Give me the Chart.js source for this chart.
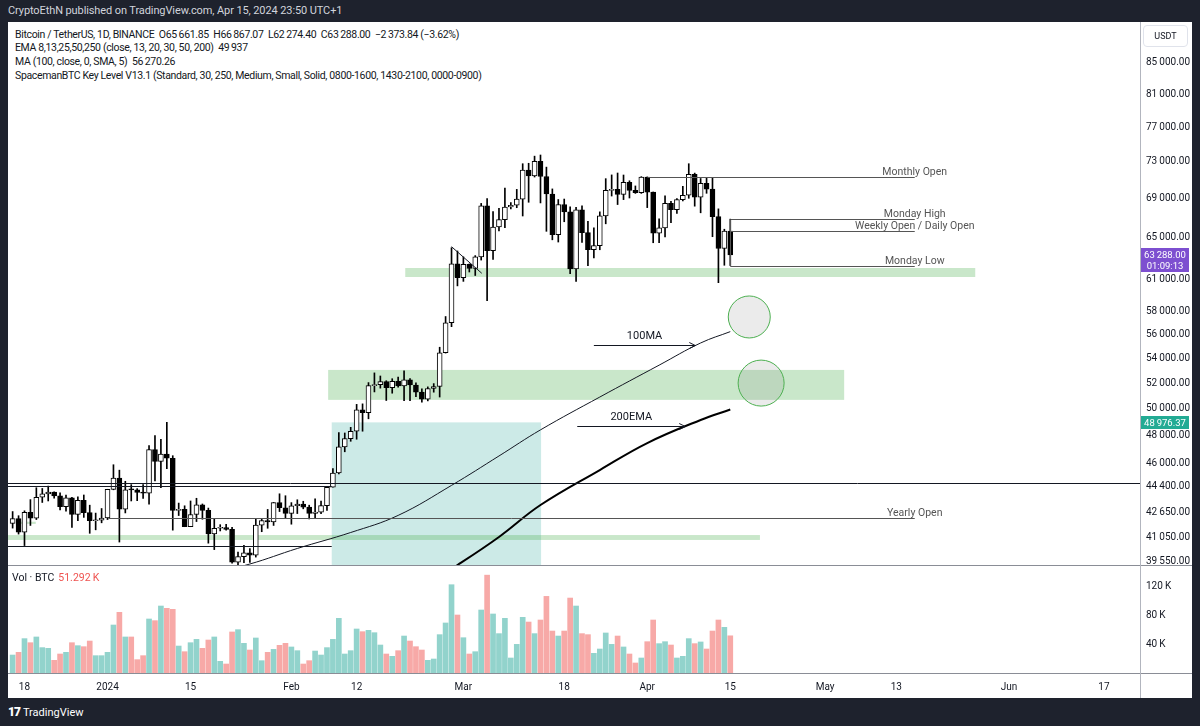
<!DOCTYPE html>
<html>
<head>
<meta charset="utf-8">
<script src="https://cdn.jsdelivr.net/npm/chart.js@4.4.1/dist/chart.umd.min.js"></script>
<style>
  html, body { margin: 0; padding: 0; width: 1200px; height: 726px; overflow: hidden; background: #1e222d; font-family: Roboto, "Noto Sans", sans-serif; }
  .abs { position: absolute; white-space: nowrap; }
  #frame { left: 8px; top: 22px; width: 1184px; height: 676px; background: #fff; }
  #hdr { left: 8px; top: 4px; color: #d1d4dc; font-size: 11px; letter-spacing: -0.1px; }
  .legend { left: 15px; color: #131722; font-size: 10.5px; letter-spacing: -0.35px; }
  #price { left: 8px; top: 22px; }
  #vol { left: 8px; top: 566px; }
  .hline { background: #8a8d96; height: 1px; }
  .vline { background: #b2b5be; width: 1px; }
  #usdt { left: 1143px; top: 25px; width: 43px; height: 20px; border: 1px solid #e0e3eb; border-radius: 4px; font-size: 9px; color: #131722; text-align: center; line-height: 20px; }
  #lastPrice { left: 1141px; top: 248px; width: 48px; height: 24px; background: #7d4fd0; color: #fff; font-size: 9.5px; line-height: 11px; text-align: center; padding-top: 1px; box-sizing: border-box; }
  #emaPrice { left: 1141px; top: 416px; width: 48px; height: 13px; background: #22ab94; color: #fff; font-size: 9.5px; line-height: 13px; text-align: center; }
  #volLabel { left: 12px; top: 571px; font-size: 10.5px; color: #131722; }
  #volLabel span { color: #ef5350; margin-left: 4px; }
  #footer { left: 8px; top: 705px; color: #fff; font-size: 11px; }
  #footer b { font-weight: 900; font-size: 12px; margin-right: 3px; letter-spacing: -1px; }
</style>
</head>
<body>
<div id="frame" class="abs"></div>
<div id="hdr" class="abs">CryptoEthN published on TradingView.com, Apr 15, 2024 23:50 UTC+1</div>
<div class="abs legend" style="top:28px">Bitcoin / TetherUS, 1D, BINANCE&nbsp; O65&#8201;661.85&nbsp; H66&#8201;867.07&nbsp; L62&#8201;274.40&nbsp; C63&#8201;288.00&nbsp; &minus;2&#8201;373.84 (&minus;3.62%)</div>
<div class="abs legend" style="top:41px">EMA 8,13,25,50,250 (close, 13, 20, 30, 50, 200)&nbsp; 49&#8201;937</div>
<div class="abs legend" style="top:55px">MA (100, close, 0, SMA, 5)&nbsp; 56&#8201;270.26</div>
<div class="abs legend" style="top:69px">SpacemanBTC Key Level V13.1 (Standard, 30, 250, Medium, Small, Solid, 0800-1600, 1430-2100, 0000-0900)</div>

<canvas id="price" class="abs" width="1184" height="543"></canvas>
<canvas id="vol" class="abs" width="1184" height="132"></canvas>

<div class="abs hline" style="left:8px;top:565px;width:1184px;"></div>
<div class="abs hline" style="left:8px;top:673px;width:1184px;"></div>
<div class="abs vline" style="left:1140px;top:22px;height:676px;"></div>
<div id="usdt" class="abs">USDT</div>
<div id="lastPrice" class="abs">63&#8201;288.00<br>01:09:13</div>
<div id="emaPrice" class="abs">48&#8201;976.37</div>
<div id="volLabel" class="abs">Vol &middot; BTC<span>51.292&#8201;K</span></div>
<div id="footer" class="abs"><b>17</b>TradingView</div>

<script>
// Candles start Dec 16 2023; x values are days counted from Dec 18 2023
const startDay = -2;

const opens = [41929, 42240, 41365, 42651, 42270, 43650, 43870, 44000, 43740, 43015, 43610, 42520, 43440, 42630, 42100, 42140,
  42283, 44180, 44950, 42850, 44150, 44145, 43970, 43930, 46950, 46110, 46630, 46340, 42780, 42840, 41730, 42510, 43140, 42780, 41260, 41620, 41665, 41545, 39510, 39845, 40080, 39930, 41820, 42120, 42035, 43290, 42950,
  42580, 43080, 43190, 42990, 42580, 42660, 43090, 44320, 45300, 47150, 47750, 48300, 49920, 49700, 51800, 51880, 52120, 51640, 52140, 51780, 52260, 51850, 51290, 50740, 51570, 51730, 54480, 57040, 62430,
  61130, 62390, 61990, 63110, 68240, 63720, 66070, 66820, 68120, 68310, 68960, 72080, 71450, 73070, 71390, 69500, 65300, 68390, 67610, 61940, 67840, 65500, 63800, 64210, 67210, 69880, 69990, 69460, 70740, 69890, 69650,
  71330, 69700, 65450, 65980, 68510, 67840, 68900, 69360, 71620, 69150, 70630, 70010, 67120, 63920, 65662];
const highs = [42700, 42430, 42750, 43490, 44290, 44240, 44400, 44020, 43950, 43800, 43650, 43680, 43800, 43120, 42600, 42900,
  44185, 45880, 45500, 44730, 44500, 44230, 44500, 47250, 47970, 47700, 48970, 46520, 43260, 43080, 43400, 43580, 43200, 42930, 42200, 41850, 41870, 41680, 40130, 40550, 40350, 42220, 42200, 42840, 43300, 43880, 43750,
  43290, 43480, 43380, 43120, 43540, 43400, 44390, 45610, 48200, 48170, 48590, 50330, 50370, 52040, 52820, 52570, 52190, 52350, 52490, 52990, 52370, 52030, 51550, 51700, 51960, 54940, 57590, 64000, 63680,
  63110, 62430, 63230, 68500, 69000, 67640, 67980, 70140, 68590, 69990, 72800, 72850, 73650, 73780, 72420, 70040, 68910, 68960, 68130, 68100, 68240, 66650, 65970, 67620, 71150, 71560, 71770, 71550, 70920, 70360, 71370,
  71340, 69710, 66910, 69290, 68720, 69000, 70330, 72800, 71760, 71170, 71260, 71230, 67930, 65840, 66867];
const lows = [41630, 41250, 40530, 41800, 42180, 43300, 43400, 43580, 42800, 42720, 41680, 42100, 42320, 41300, 41520, 41970,
  42180, 44150, 40750, 42610, 43400, 43420, 43570, 43180, 44750, 44300, 45600, 41500, 42440, 41720, 41720, 42050, 42200, 40680, 40280, 41450, 41500, 39450, 38550, 39480, 39500, 39820, 41400, 41620, 41800, 42700, 42280,
  41880, 42570, 42880, 42220, 42260, 42570, 42780, 44330, 45240, 46800, 47560, 47710, 48300, 49230, 51300, 51600, 50630, 51200, 51680, 50620, 50620, 50930, 50500, 50600, 51280, 50900, 54450, 56700, 60360,
  60780, 61660, 61330, 62800, 59000, 62850, 65660, 66000, 67930, 68050, 67190, 68620, 71330, 68550, 65630, 64780, 64560, 66600, 61500, 60780, 64530, 62260, 63000, 63800, 66390, 69280, 68380, 68900, 69070, 69560, 69560,
  68060, 64490, 64490, 65060, 66500, 67450, 68750, 69040, 68210, 67520, 69570, 65090, 60660, 62300, 62274];
const closes = [42240, 41365, 42651, 42270, 43650, 43870, 44000, 43740, 43015, 43610, 42520, 43440, 42630, 42100, 42140, 42283,
  44180, 44950, 42850, 44150, 44145, 43970, 43930, 46950, 46110, 46630, 46340, 42780, 42840, 41730, 42510, 43140, 42780, 41260, 41620, 41665, 41545, 39510, 39845, 40080, 39930, 41820, 42120, 42035, 43290, 42950, 42580,
  43080, 43190, 42990, 42580, 42660, 43090, 44320, 45300, 47150, 47750, 48300, 49920, 49700, 51800, 51880, 52120, 51640, 52140, 51780, 52260, 51850, 51290, 50740, 51570, 51730, 54480, 57040, 62430, 61130,
  62390, 61990, 63110, 68240, 63720, 66070, 66820, 68120, 68310, 68960, 72080, 71450, 73070, 71390, 69500, 65300, 68390, 67610, 61940, 67840, 65500, 63800, 64210, 67210, 69880, 69990, 69460, 70740, 69890, 69650, 71330,
  69700, 65450, 65980, 68510, 67840, 68900, 69360, 71620, 69150, 70630, 70010, 67120, 63920, 65662, 63288];
// volume in thousands of BTC
const volumes = [24.8, 28.5, 47.4, 41.8, 49.7, 35.0, 34.0, 17.5, 26.2, 28.5, 41.8, 37.7, 36.3, 44.1, 23.9, 23.9,
  28.5, 66.2, 83.7, 49.7, 49.7, 18.4, 23.9, 74.5, 72.2, 92.4, 89.2, 87.8, 37.2, 29.4, 41.8, 46.4, 34.0, 45.5, 49.7, 16.1, 12.4, 56.6, 59.8, 40.9, 31.7, 48.3, 17.0, 28.5, 32.6, 38.2, 40.9,
  35.9, 30.8, 12.4, 17.0, 30.3, 24.8, 35.0, 46.4, 75.4, 26.2, 30.8, 60.7, 57.0, 58.9, 55.6, 38.6, 26.2, 23.0, 30.8, 51.0, 44.1, 36.3, 31.7, 17.5, 19.3, 52.9, 69.0, 121.8, 80.0,
  48.7, 26.2, 29.4, 86.9, 135.0, 81.4, 54.3, 75.4, 20.7, 39.5, 76.8, 70.3, 54.3, 73.1, 105.7, 57.9, 51.0, 57.9, 103.4, 92.4, 54.3, 52.9, 27.1, 33.1, 55.2, 39.5, 51.0, 35.9, 26.2, 13.8, 20.7,
  43.2, 73.1, 40.5, 43.2, 38.6, 20.7, 23.0, 47.4, 40.5, 42.8, 33.1, 57.9, 73.1, 63.0, 51.3];

// 100 SMA and 200 EMA (day, value)
const maDays = [30, 38, 46, 55, 63, 72, 80, 87, 97, 107, 114, 119];
const maValues = [38700, 39400, 40350, 41350, 42450, 44450, 46500, 48400, 50900, 53450, 55300, 56270];
const emaDays = [66, 73, 80, 87, 97, 105, 114, 119];
const emaValues = [37800, 39340, 41070, 43130, 45510, 47430, 49140, 49937];

// axis ticks
const priceTicks = [85000, 81000, 77000, 73000, 69000, 65000, 61000, 58000, 56000, 54000, 52000, 50000, 48000, 46000, 44400, 42650, 41050, 39550];
const volTicks = [40, 80, 120];
const timeTickDays = [0, 14, 28, 45, 56, 74, 91, 105, 119, 135, 147, 166, 182];
const timeTickLabels = ['18', '2024', '15', 'Feb', '12', 'Mar', '18', 'Apr', '15', 'May', '13', 'Jun', '17'];

// drawings: [fromDay, toDay, price, label]
const keyLevels = [
  [105, 150.1, 71330, 'Monthly Open'],
  [119, 150.1, 66867.07, 'Monday High'],
  [119, 150.1, 65661.85, 'Weekly Open / Daily Open'],
  [119, 150.1, 62274.40, 'Monday Low'],
  [14, 150.1, 42283, 'Yearly Open'],
];
const plainLines = [[-3, 190, 44640], [-3, 51.8, 44440], [-3, 51.8, 40520]];
// [fromDay, toDay, low, high]
const zones = [[64.2, 160.3, 61190, 62040], [51.2, 138.2, 50680, 53060], [-3, 124, 40880, 41190], [-1.3, 1.9, 41900, 42040]];
const tealBox = [51.8, 87.1, 48960];
const circles = [[122.2, 57550, 21], [124.2, 52000, 23]];
const arrows = [[96.0, 113.1, 55130, '100MA'], [93.2, 111.4, 48710, '200EMA']];
const trendLine = [[72.0, 64100], [77.1, 61540]];

const dayMin = -2.78, dayMax = 188.08;

function fmtPrice(v) {
  const [i, d] = v.toFixed(2).split('.');
  return i.replace(/\B(?=(\d{3})+$)/g, '\u2009') + '.' + d;
}

const annotations = {
  id: 'annotations',
  beforeDatasetsDraw(chart) {
    const { ctx, chartArea: a, scales: { x, y } } = chart;
    ctx.save();
    ctx.beginPath();
    ctx.rect(a.left, a.top, a.right - a.left, a.bottom - a.top);
    ctx.clip();
    // teal range box
    const bx0 = x.getPixelForValue(tealBox[0]);
    const bx1 = x.getPixelForValue(tealBox[1]);
    const by = y.getPixelForValue(tealBox[2]);
    ctx.fillStyle = 'rgba(0,150,136,0.2)';
    ctx.fillRect(bx0, by, bx1 - bx0, a.bottom - by);
    // support zones
    ctx.fillStyle = 'rgba(76,175,80,0.3)';
    zones.forEach(([d0, d1, lo, hi]) => {
      const x0 = x.getPixelForValue(d0), x1 = x.getPixelForValue(d1);
      const y0 = y.getPixelForValue(hi), y1 = y.getPixelForValue(lo);
      ctx.fillRect(x0, y0, x1 - x0, y1 - y0);
    });
    ctx.restore();
  },
  afterDatasetsDraw(chart) {
    const { ctx, chartArea: a, scales: { x, y } } = chart;
    ctx.save();
    ctx.beginPath();
    ctx.rect(a.left, a.top, a.right - a.left, a.bottom - a.top);
    ctx.clip();
    ctx.strokeStyle = '#131722';
    ctx.lineWidth = 1;
    // plain horizontal lines
    plainLines.forEach(([d0, d1, p]) => {
      const py = Math.round(y.getPixelForValue(p)) + 0.5;
      ctx.beginPath();
      ctx.moveTo(x.getPixelForValue(d0), py);
      ctx.lineTo(x.getPixelForValue(d1), py);
      ctx.stroke();
    });
    // key levels with labels
    ctx.font = '10.5px Roboto';
    ctx.textAlign = 'center';
    ctx.textBaseline = 'alphabetic';
    keyLevels.forEach(([d0, d1, p, label]) => {
      const py = Math.round(y.getPixelForValue(p)) + 0.5;
      const x1 = x.getPixelForValue(d1);
      ctx.strokeStyle = '#555';
      ctx.beginPath();
      ctx.moveTo(Math.round(x.getPixelForValue(d0)) + 0.5, py);
      ctx.lineTo(x1, py);
      ctx.stroke();
      ctx.fillStyle = '#555';
      ctx.fillText(label, x1, py - 3);
    });
    // bracket on the Monday levels
    const bxm = Math.round(x.getPixelForValue(keyLevels[1][0])) + 0.5;
    ctx.beginPath();
    ctx.moveTo(bxm, Math.round(y.getPixelForValue(keyLevels[1][2])) + 0.5);
    ctx.lineTo(bxm, Math.round(y.getPixelForValue(keyLevels[3][2])) + 0.5);
    ctx.stroke();
    // small trend line
    ctx.strokeStyle = '#131722';
    ctx.beginPath();
    ctx.moveTo(x.getPixelForValue(trendLine[0][0]), y.getPixelForValue(trendLine[0][1]));
    ctx.lineTo(x.getPixelForValue(trendLine[1][0]), y.getPixelForValue(trendLine[1][1]));
    ctx.stroke();
    // circles
    circles.forEach(([d, p, r]) => {
      ctx.beginPath();
      ctx.arc(x.getPixelForValue(d), y.getPixelForValue(p), r, 0, Math.PI * 2);
      ctx.fillStyle = 'rgba(120,120,120,0.15)';
      ctx.fill();
      ctx.strokeStyle = '#4caf50';
      ctx.stroke();
    });
    // arrows with text
    ctx.font = '11px Roboto';
    arrows.forEach(([d0, d1, p, label]) => {
      const py = Math.round(y.getPixelForValue(p)) + 0.5;
      const x0 = x.getPixelForValue(d0), x1 = x.getPixelForValue(d1);
      ctx.strokeStyle = '#131722';
      ctx.beginPath();
      ctx.moveTo(x0, py);
      ctx.lineTo(x1, py);
      ctx.moveTo(x1 - 6, py - 3);
      ctx.lineTo(x1, py);
      ctx.lineTo(x1 - 6, py + 3);
      ctx.stroke();
      ctx.fillStyle = '#131722';
      ctx.fillText(label, (x0 + x1) / 2, py - 7);
    });
    ctx.restore();
  }
};

const up = opens.map((o, i) => closes[i] >= o);
const candleDays = opens.map((_, i) => i + startDay);

new Chart(document.getElementById('price'), {
  type: 'bar',
  data: {
    datasets: [
      {
        type: 'line',
        data: maDays.map((d, i) => ({ x: d, y: maValues[i] })),
        borderColor: '#131722', borderWidth: 1, pointRadius: 0, tension: 0.4, order: 0
      },
      {
        type: 'line',
        data: emaDays.map((d, i) => ({ x: d, y: emaValues[i] })),
        borderColor: '#000', borderWidth: 2, pointRadius: 0, tension: 0.4, order: 0
      },
      {
        data: candleDays.map((d, i) => ({ x: d, y: [opens[i], closes[i]] })),
        backgroundColor: up.map(u => (u ? '#ffffff' : '#000000')),
        borderColor: '#000', borderWidth: 1, borderSkipped: false,
        barThickness: 5, minBarLength: 1, grouped: false, order: 1
      },
      {
        data: candleDays.map((d, i) => ({ x: d, y: [lows[i], highs[i]] })),
        backgroundColor: '#000', barThickness: 1, grouped: false, order: 2
      }
    ]
  },
  options: {
    responsive: false,
    animation: false,
    events: [],
    layout: { padding: 0 },
    plugins: { legend: { display: false }, tooltip: { enabled: false } },
    scales: {
      x: { type: 'linear', min: dayMin, max: dayMax, offset: false, display: false },
      y: {
        type: 'logarithmic', position: 'right', min: 39340, max: 90475, bounds: 'data',
        grid: { display: false, drawTicks: false }, border: { display: false },
        ticks: { color: '#131722', font: { size: 10, family: 'Roboto' }, padding: 6, autoSkip: false, callback: v => fmtPrice(v) },
        afterBuildTicks: s => { s.ticks = priceTicks.map(v => ({ value: v })); },
        afterFit: s => { s.width = 52; s.paddingTop = 0; s.paddingBottom = 0; }
      }
    }
  },
  plugins: [annotations]
});

new Chart(document.getElementById('vol'), {
  type: 'bar',
  data: {
    datasets: [{
      data: candleDays.map((d, i) => ({ x: d, y: volumes[i] })),
      backgroundColor: up.map(u => (u ? '#92d3cc' : '#f7a9a7')),
      barThickness: 5, grouped: false
    }]
  },
  options: {
    responsive: false,
    animation: false,
    events: [],
    layout: { padding: 0 },
    plugins: { legend: { display: false }, tooltip: { enabled: false } },
    scales: {
      x: {
        type: 'linear', min: dayMin, max: dayMax, offset: false,
        grid: { display: false, drawTicks: false }, border: { display: false },
        ticks: { color: '#131722', font: { size: 10, family: 'Roboto' }, padding: 8, maxRotation: 0, autoSkip: false,
          callback: v => timeTickLabels[timeTickDays.indexOf(v)] },
        afterBuildTicks: s => { s.ticks = timeTickDays.map(v => ({ value: v })); },
        afterFit: s => { s.height = 25; s.paddingLeft = 0; s.paddingRight = 0; }
      },
      y: {
        position: 'right', min: 0, max: 147.6,
        grid: { display: false, drawTicks: false }, border: { display: false },
        ticks: { color: '#131722', font: { size: 10, family: 'Roboto' }, padding: 6, autoSkip: false, callback: v => v + '\u2009K' },
        afterBuildTicks: s => { s.ticks = volTicks.map(v => ({ value: v })); },
        afterFit: s => { s.width = 52; s.paddingTop = 0; s.paddingBottom = 0; }
      }
    }
  }
});
</script>
</body>
</html>
